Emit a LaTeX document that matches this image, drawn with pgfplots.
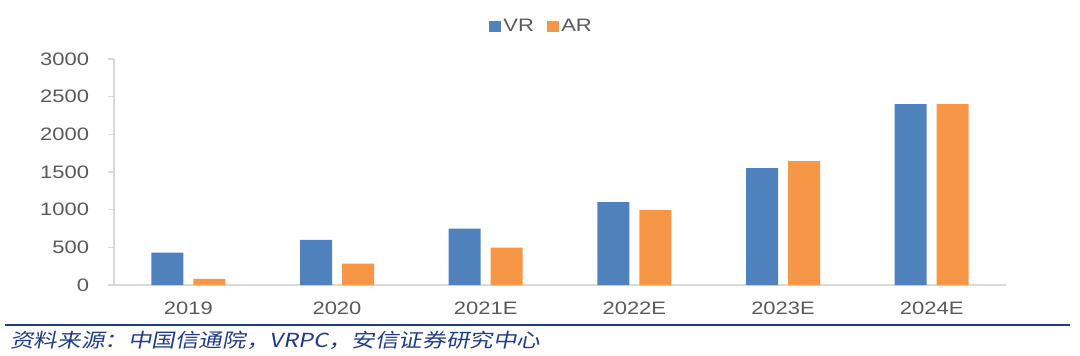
\documentclass[border=0pt]{standalone}
\usepackage{pgfplots}
\pgfplotsset{compat=1.18}
\usepackage{fontspec}
\setmainfont{Liberation Sans}[FakeStretch=1.22]
\newfontfamily\cjk{Noto Sans CJK SC}[FakeStretch=1.22,FakeSlant=0.2]
\definecolor{vrblue}{HTML}{4F81BD}
\definecolor{arorange}{HTML}{F79646}
\definecolor{axisgrey}{HTML}{D9D9D9}
\definecolor{labelgrey}{HTML}{595959}
\definecolor{navy}{HTML}{1F3B8C}
\begin{document}
\begin{tikzpicture}
\path[use as bounding box] (-85.5pt,-52.5pt) rectangle (724.5pt,213.75pt);
\begin{axis}[
  at={(0,0)}, anchor=south west,
  scale only axis, width=669pt, height=169.5pt,
  ymin=0, ymax=3000, xmin=-0.5, xmax=5.5,
  ybar=7.5pt, bar width=24pt,
  axis x line*=bottom, axis y line*=left,
  axis line style={axisgrey, line width=0.9pt, -},
  xtick={0,1,2,3,4,5},
  xticklabels={2019,2020,2021E,2022E,2023E,2024E},
  ytick={0,500,1000,1500,2000,2500,3000},
  x tick style={draw=none},
  y tick style={axisgrey, line width=0.9pt},
  tick align=outside, major tick length=4.5pt,
  ticklabel style={font=\fontsize{13.5}{16}\selectfont, text=labelgrey},
  yticklabel style={inner sep=0pt, xshift=-14pt},
  xticklabel style={inner sep=0pt, yshift=-8pt},
  /pgf/number format/assume math mode=true,
  /pgf/number format/1000 sep={},
  legend style={draw=none, fill=none, at={(0.479,1.145)}, anchor=center,
    legend columns=-1, font=\fontsize{13.5}{16}\selectfont, text=labelgrey,
    inner sep=0pt, nodes={inner sep=1.5pt},
    /tikz/every even column/.append style={column sep=8pt}},
]
\addplot[fill=vrblue, draw=none,
  legend image code/.code={\fill[vrblue] (0pt,-4pt) rectangle (9.5pt,4pt);}]
  coordinates {(0,430) (1,600) (2,750) (3,1100) (4,1550) (5,2400)};
\addplot[fill=arorange, draw=none,
  legend image code/.code={\fill[arorange] (0pt,-4pt) rectangle (9.5pt,4pt);}]
  coordinates {(0,80) (1,285) (2,495) (3,995) (4,1645) (5,2400)};
\legend{VR,AR}
\end{axis}
\draw[navy, line width=1.6pt] (-81.75pt,-30pt) -- (717pt,-30pt);
\node[anchor=west, inner sep=0pt, text=navy] at (-78pt,-41.25pt)
  {\cjk\fontsize{14.5}{17}\selectfont 资料来源：中国信通院，VRPC，安信证券研究中心};
\end{tikzpicture}
\end{document}
